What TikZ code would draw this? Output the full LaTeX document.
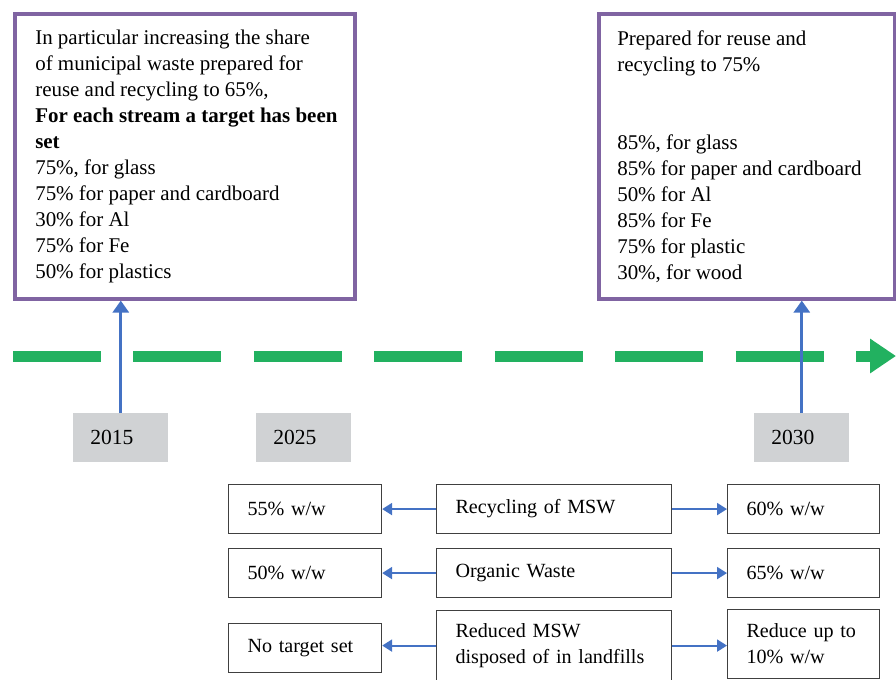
\documentclass[tikz,border=0pt]{standalone}
\usepackage{fontspec}
\setmainfont{Liberation Serif}
\usetikzlibrary{arrows.meta}
\definecolor{goalpurple}{RGB}{128,100,162}
\definecolor{yearblue}{RGB}{68,114,196}
\definecolor{timegreen}{RGB}{34,177,96}
\definecolor{yeargray}{RGB}{208,210,212}
\definecolor{boxgray}{RGB}{64,64,64}
\tikzset{
  goalbox/.style={draw=goalpurple, line width=2.5pt, anchor=north west, minimum height=7.125cm},
  goaltext/.style={anchor=west, inner sep=0pt, align=left, font=\fontsize{14.9}{18.5}\selectfont},
  yearbox/.style={fill=yeargray, anchor=north west, minimum height=1.225cm, text width=1.525cm,
    inner xsep=0.425cm, align=left, font=\fontsize{15.3}{18.5}\selectfont},
  targetbox/.style={draw=boxgray, line width=0.8pt, anchor=north west, minimum height=1.225cm,
    inner xsep=0.475cm, align=left, font=\fontsize{14.3}{18.5}\selectfont},
  uparrow/.style={draw=yearblue, line width=2.2pt, -{Triangle[length=0.3cm,width=0.4cm]}},
  sidearrow/.style={draw=yearblue, line width=1.5pt, -{Triangle[length=0.25cm,width=0.3cm]}},
  timeline/.style={draw=timegreen, line width=0.275cm, dash pattern=on 2.2cm off 0.81cm,
    -{Triangle[length=0.65cm,width=0.825cm]}}
}
\begin{document}
\begin{tikzpicture}[x=0.025cm, y=-0.025cm]
    \useasboundingbox (0,0) rectangle (896,679);
    % targets
    \node[goalbox, minimum width=8.5cm] (goal15) at (13,12) {};
    \node[goaltext, xshift=0.55cm] (text15) at (goal15.west) {In particular increasing the share\\
        of municipal waste prepared for\\
        reuse and recycling to 65\%,\\
        \textbf{For each stream a target has been}\\
        \textbf{set}\\
        75\%, for glass\\
        75\% for paper and cardboard\\
        30\% for Al\\
        75\% for Fe\\
        50\% for plastics};
    \node[goalbox, minimum width=7.4cm] (goal30) at (597,12) {};
    \node[goaltext, xshift=0.5cm] (text30) at (goal30.west) {Prepared for reuse and\\
        recycling to 75\%\\[37pt]
        85\%, for glass\\
        85\% for paper and cardboard\\
        50\% for Al\\
        85\% for Fe\\
        75\% for plastic\\
        30\%, for wood};
    % time line
    \coordinate (tstart) at (13,356);
    \coordinate (tend) at (896,356);
    \draw[timeline] (tstart) -- (tend);
    % years
    \node[yearbox] (y2015) at (73,413) {2015};
    \node[yearbox] (y2025) at (256,413) {2025};
    \node[yearbox] (y2030) at (754,413) {2030};
    \draw[uparrow] (y2015.north) -- (y2015.north |- goal15.south);
    \draw[uparrow] (y2030.north) -- (y2030.north |- goal30.south);
    % streams
    \node[targetbox, text width=4.925cm] (msw) at (436,484) {Recycling of MSW};
    \node[targetbox, text width=2.875cm] (msw25) at (228,484) {55\% w/w};
    \node[targetbox, text width=2.85cm] (msw30) at (727,484) {60\% w/w};
    \node[targetbox, text width=4.925cm] (org) at (436,548) {Organic Waste};
    \node[targetbox, text width=2.875cm] (org25) at (228,548) {50\% w/w};
    \node[targetbox, text width=2.85cm] (org30) at (727,548) {65\% w/w};
    \node[targetbox, text width=4.925cm, minimum height=1.75cm] (land) at (436,610) {Reduced MSW\\disposed of in landfills};
    \node[targetbox, text width=2.875cm] (land25) at (228,623) {No target set};
    \node[targetbox, text width=2.85cm, minimum height=1.725cm] (land30) at (727,609) {Reduce up to\\10\% w/w};
    \draw[sidearrow] (msw.west) -- (msw25.east);
    \draw[sidearrow] (msw.east) -- (msw30.west);
    \draw[sidearrow] (org.west) -- (org25.east);
    \draw[sidearrow] (org.east) -- (org30.west);
    \draw[sidearrow] (land.west) -- (land.west -| land25.east);
    \draw[sidearrow] (land.east) -- (land.east -| land30.west);
\end{tikzpicture}
\end{document}
